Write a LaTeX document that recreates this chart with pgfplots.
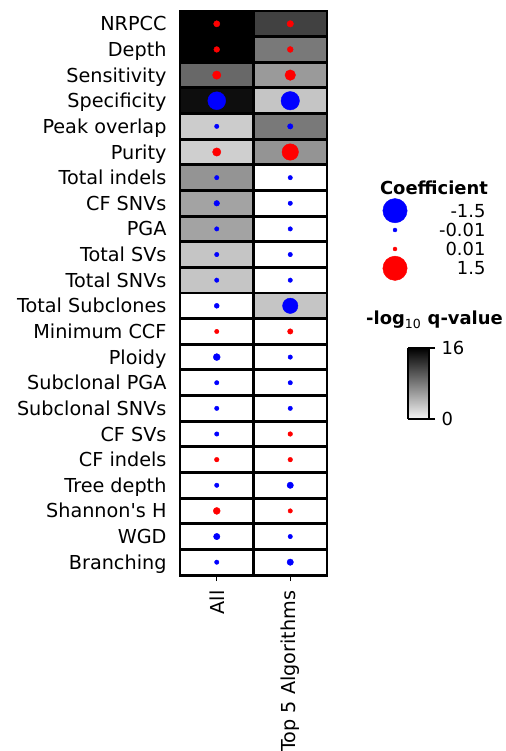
\documentclass[border=0pt]{standalone}
\usepackage{fontspec}
\setmainfont{DejaVu Sans}
\usepackage{pgfplots}
\usepackage{pgfplotstable}
\pgfplotsset{compat=1.18}
\pgfplotsset{colormap={qv}{gray(0cm)=(1); gray(1cm)=(0.94); gray(40cm)=(0)}}

% -log10 q-value per cell (row 0 = NRPCC ... row 21 = Branching; col 0 = All, col 1 = Top 5)
\pgfplotstableread{
col row q
0 0 16
1 0 11.8
0 1 16
1 1 8.1
0 2 9.2
1 2 6.0
0 3 15.1
1 3 3.2
0 4 2.7
1 4 8.1
0 5 2.5
1 5 6.4
0 6 6.4
1 6 0
0 7 5.4
1 7 0
0 8 5.4
1 8 0
0 9 3.2
1 9 0
0 10 3.2
1 10 0
0 11 0
1 11 3.2
0 12 0
1 12 0
0 13 0
1 13 0
0 14 0
1 14 0
0 15 0
1 15 0
0 16 0
1 16 0
0 17 0
1 17 0
0 18 0
1 18 0
0 19 0
1 19 0
0 20 0
1 20 0
0 21 0
1 21 0
}\qtab

% positive coefficients
\pgfplotstableread{
col row c
0 0 0.07
1 0 0.08
0 1 0.055
1 1 0.06
0 2 0.15
1 2 0.26
0 5 0.15
1 5 0.67
0 12 0.02
1 12 0.045
1 16 0.025
0 17 0.025
1 17 0.025
0 19 0.095
1 19 0.02
}\postab

% negative coefficients
\pgfplotstableread{
col row c
0 3 -0.80
1 3 -0.85
0 4 -0.02
1 4 -0.045
0 6 -0.02
1 6 -0.02
0 7 -0.05
1 7 -0.02
0 8 -0.02
1 8 -0.02
0 9 -0.02
1 9 -0.02
0 10 -0.02
1 10 -0.02
0 11 -0.033
1 11 -0.58
0 13 -0.095
1 13 -0.02
0 14 -0.02
1 14 -0.02
0 15 -0.02
1 15 -0.02
0 16 -0.02
0 18 -0.02
1 18 -0.075
0 20 -0.075
1 20 -0.02
0 21 -0.02
1 21 -0.075
}\negtab

\pgfplotsset{
  dotstyle/.style={only marks, mark=*, scatter, scatter/use mapped color={draw=#1, fill=#1},
    visualization depends on={sqrt(4+97.18*(abs(\thisrow{c})-0.01)) \as \rad},
    scatter/@pre marker code/.append style={/tikz/mark size=\rad pt}},
}

\newcommand{\lfont}{\fontsize{18}{21.6}\selectfont}
\newcommand{\afont}{\fontsize{19.3}{23}\selectfont}

\begin{document}
\begin{tikzpicture}
\useasboundingbox (0,0) rectangle (506bp,751bp);

\begin{axis}[
  at={(180bp,176bp)}, anchor=south west,
  width=147bp, height=564bp, scale only axis,
  xmin=-0.5, xmax=1.5, ymin=-0.5, ymax=21.5, y dir=reverse,
  xtick={0,1}, xticklabels={All, Top 5 Algorithms},
  ytick={0,...,21},
  yticklabels={NRPCC, Depth, Sensitivity, Specificity, Peak overlap, Purity, Total indels, CF SNVs, PGA, Total SVs, Total SNVs, Total Subclones, Minimum CCF, Ploidy, Subclonal PGA, Subclonal SNVs, CF SVs, CF indels, Tree depth, Shannon\textquotesingle s H, WGD, Branching},
  every tick label/.append style={font=\afont},
  x tick label style={yshift=-6bp, rotate=90, anchor=east},
  y tick label style={text height=14bp, text depth=0pt, xshift=-4bp},
  tick align=outside, xtick pos=bottom, ytick pos=left,
  major tick length=6bp,
  xtick style={draw=black, line width=1.2pt},
  ytick style={draw=none},
  axis line style={line width=3pt},
  minor xtick={0.5}, minor ytick={0.5,1.5,...,20.5},
  grid=minor, minor tick length=0pt,
  every minor grid/.append style={black, line width=3pt},
  axis on top,
  colormap name=qv, point meta min=0, point meta max=16,
]
\addplot[matrix plot*, mesh/cols=2, mesh/ordering=x varies, point meta=explicit]
  table[x=col, y=row, meta=q] \qtab;
\addplot[dotstyle=red] table[x=col, y=row] \postab;
\addplot[dotstyle=blue] table[x=col, y=row] \negtab;
\end{axis}

% colour bar
\begin{axis}[
  at={(408bp,332bp)}, anchor=south west,
  width=21bp, height=71bp, scale only axis,
  view={0}{90},
  xmin=0, xmax=1, ymin=0, ymax=16,
  colormap name=qv, point meta min=0, point meta max=16,
  xtick=\empty, ytick={0,16}, yticklabels={0,16},
  ytick pos=right, tick align=outside, major tick length=6bp,
  ytick style={draw=black, line width=1.2pt},
  axis line style={line width=1.5pt},
  every tick label/.append style={font=\lfont, xshift=3bp},
  axis on top,
]
\addplot3[surf, shader=interp, point meta=y] coordinates {
(0,0,0) (1,0,0)

(0,16,0) (1,16,0)
};
\end{axis}

% legend overlay in image coordinates
\begin{axis}[
  at={(0,0)}, anchor=south west,
  width=506bp, height=751bp, scale only axis,
  xmin=0, xmax=506, ymin=0, ymax=751, y dir=reverse,
  hide axis, clip=false,
]
\addplot[dotstyle=blue] table {
x y c
395 210.7 -1.5
395 230 -0.01
};
\addplot[dotstyle=red] table {
x y c
395 249 0.01
395 268.3 1.5
};
\node[font=\lfont\bfseries, anchor=base] at (axis cs:434,195) {Coefficient};
\node[font=\lfont, anchor=east, text height=13bp, text depth=0pt] at (axis cs:489,211) {-1.5};
\node[font=\lfont, anchor=east, text height=13bp, text depth=0pt] at (axis cs:489,230) {-0.01};
\node[font=\lfont, anchor=east, text height=13bp, text depth=0pt] at (axis cs:489,249) {0.01};
\node[font=\lfont, anchor=east, text height=13bp, text depth=0pt] at (axis cs:489,268.5) {1.5};
\node[font=\lfont, anchor=base] at (axis cs:434.5,325) {\textbf{-log}\textsubscript{10}\textbf{ q-value}};
\end{axis}
\end{tikzpicture}
\end{document}
